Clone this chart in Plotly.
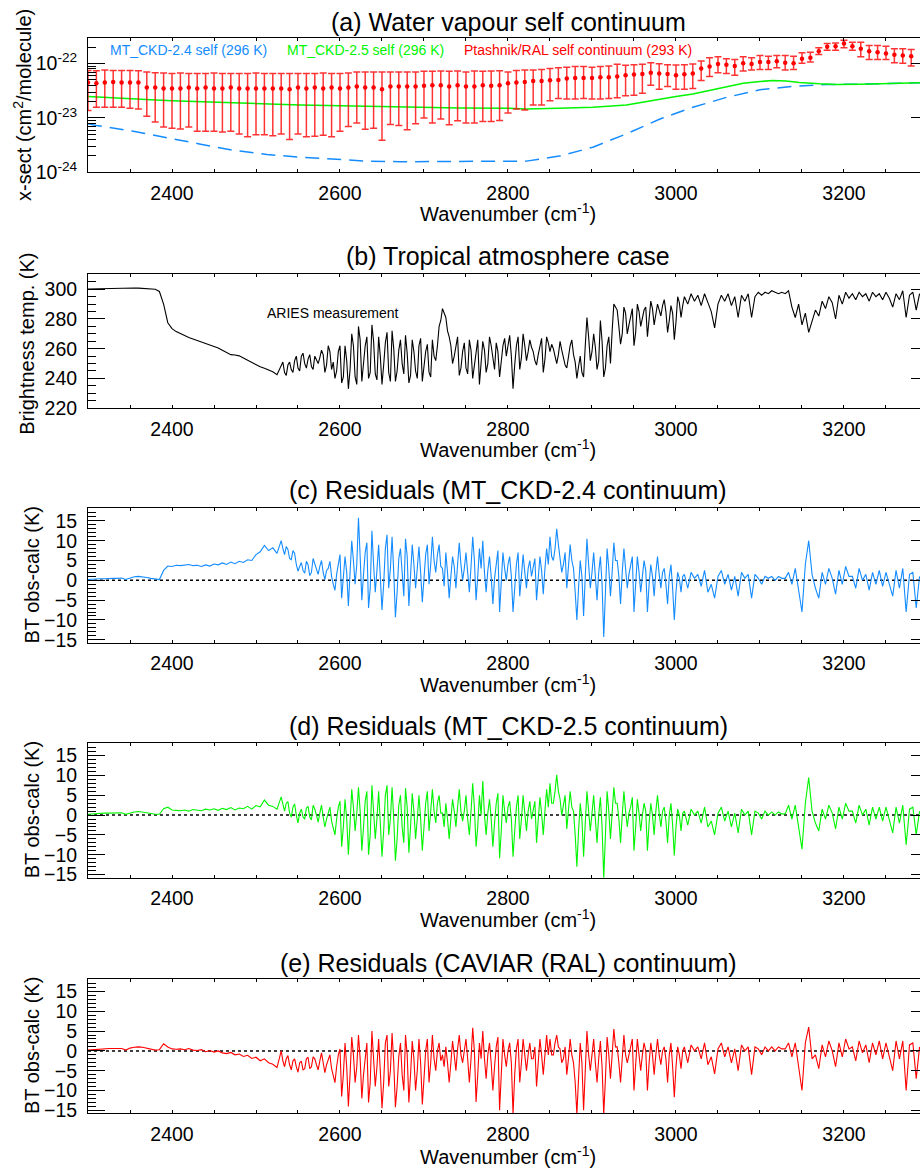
import plotly.graph_objects as go

W, H = 920, 1176
FONT = "Liberation Sans, Arial, Helvetica, sans-serif"
BLUE = "rgb(20,140,255)"
GREEN = "rgb(0,245,0)"
RED = "rgb(255,0,0)"
SCALE = 1e-23  # cross-section lists below are in units of 1e-23 cm2/molecule

# ---------------- (a) water vapour self continuum ----------------
ral_wn = list(range(2300, 3290, 10))
ral_centre = [4.5, 4.36, 4.5, 4.6, 4.5, 4.5, 4.5, 3.63, 3.63, 3.48,
              3.48, 3.48, 3.63, 3.48, 3.63, 3.48, 3.48, 3.63, 3.48, 3.48,
              3.48, 3.48, 3.48, 3.48, 3.39, 3.63, 3.48, 3.63, 3.48, 3.63,
              3.48, 3.63, 3.8, 3.63, 3.63, 3.39, 3.8, 3.8, 3.8, 3.8,
              3.9, 4.0, 4.0, 3.8, 4.0, 3.8, 3.8, 4.0, 3.9, 4.0,
              4.36, 4.5, 4.6, 4.8, 4.8, 4.94, 5.0, 5.3, 5.45, 5.45,
              5.45, 5.6, 5.6, 5.8, 6.1, 6.3, 6.45, 6.8, 6.6, 6.45,
              6.1, 6.35, 6.6, 8.1, 8.8, 9.8, 9.5, 9.0, 10.1, 9.8,
              10.7, 10.7, 11.0, 10.4, 10.1, 12.3, 12.8, 16.9, 20.3, 20.9,
              23.3, 20.9, 18.7, 16.9, 16.2, 15.3, 14.5, 14.1, 13.7]
ral_upper = [7.5, 7.4, 7.6, 7.5, 7.5, 7.5, 7.4, 7.0, 6.8, 6.7,
             6.6, 6.7, 6.6, 6.6, 6.6, 6.7, 6.6, 6.6, 6.6, 6.6,
             6.7, 6.6, 6.6, 6.6, 6.6, 6.6, 6.6, 6.6, 6.7, 6.6,
             6.6, 6.7, 7.0, 7.0, 7.0, 7.0, 7.0, 7.0, 7.0, 7.0,
             7.2, 7.2, 7.3, 7.2, 7.3, 7.0, 7.3, 7.2, 7.3, 7.4,
             7.0, 7.5, 7.6, 7.6, 7.8, 8.1, 8.4, 8.6, 8.8, 8.8,
             8.6, 8.8, 9.0, 9.7, 9.3, 9.5, 9.7, 10.4, 9.9, 9.5,
             9.4, 9.5, 9.8, 11.1, 12.8, 13.3, 12.3, 11.9, 13.3, 12.8,
             14.1, 13.7, 14.1, 14.1, 13.7, 15.8, 16.2, 19.5, 23.3, 24.0,
             26.8, 24.7, 24.7, 21.5, 21.5, 20.9, 18.7, 18.7, 18.2]
ral_lower = [1.37, 1.57, 1.57, 1.57, 1.57, 1.51, 1.47, 1.08, 0.84, 0.68,
             0.65, 0.63, 0.68, 0.57, 0.57, 0.57, 0.55, 0.57, 0.51, 0.45,
             0.49, 0.49, 0.47, 0.51, 0.40, 0.51, 0.45, 0.46, 0.48, 0.45,
             0.57, 0.70, 0.81, 0.62, 0.65, 0.39, 0.76, 0.73, 0.61, 0.78,
             1.00, 0.81, 0.96, 0.75, 0.89, 0.81, 0.81, 0.86, 0.86, 0.90,
             1.24, 1.47, 1.40, 1.73, 1.73, 2.08, 2.29, 2.23, 2.23, 2.29,
             2.23, 2.23, 2.29, 2.36, 2.56, 2.63, 2.86, 4.0, 3.39, 3.8,
             3.39, 3.39, 3.48, 4.87, 5.8, 6.8, 6.6, 6.1, 7.3, 7.6,
             7.8, 7.8, 8.4, 7.6, 7.8, 10.1, 10.7, 14.7, 17.6, 17.6,
             19.5, 17.6, 13.3, 11.9, 11.9, 11.9, 10.4, 10.1, 9.0]

ckd25_wn = [2300, 2325, 2354, 2375, 2400, 2450, 2473, 2500, 2553, 2600, 2632,
            2700, 2743, 2800, 2822, 2860, 2901, 2941, 2981, 3000, 3020, 3032,
            3060, 3080, 3100, 3115, 3131, 3147, 3171, 3191, 3220, 3258, 3300]
ckd25_val = [2.49, 2.36, 2.23, 2.16, 2.08, 1.94, 1.88, 1.84, 1.73, 1.68, 1.64,
             1.57, 1.53, 1.51, 1.47, 1.51, 1.57, 1.73, 2.23, 2.49, 2.75, 3.03,
             3.8, 4.36, 4.68, 4.87, 4.8, 4.5, 4.24, 4.12, 4.18, 4.30, 4.5]

ckd24_wn = [2300, 2310, 2354, 2394, 2434, 2473, 2513, 2553, 2593, 2632, 2672,
            2743, 2782, 2822, 2861, 2901, 2941, 2981, 3020, 3060, 3100, 3139,
            3179, 3219, 3300]
ckd24_val = [0.78, 0.73, 0.57, 0.43, 0.33, 0.255, 0.213, 0.19, 0.175, 0.161, 0.157,
             0.157, 0.157, 0.161, 0.199, 0.29, 0.51, 0.96, 1.57, 2.39, 3.30, 3.8,
             4.12, 4.18, 4.5]

# ---------------- spectra (b)-(e) on a common wavenumber grid ----------------
wn_smooth = list(range(2300, 2530, 5))    # 46 samples
wn_dense = list(range(2530, 3010, 2))     # 240 samples
wn_tail = list(range(3010, 3291, 4))      # 71 samples
wn = wn_smooth + wn_dense + wn_tail

bt_smooth = [300.2, 300.3, 300.3, 300.4, 300.4, 300.5, 300.5, 300.6, 300.6, 300.8,
             301.0, 300.9, 300.8, 300.7, 300.5, 300.3, 300.0, 298.5, 290.0, 277.5,
             273.5, 271.5, 270.0, 268.5, 267.5, 266.5, 265.5, 264.5, 263.8, 262.8,
             262.0, 260.5, 259.0, 257.5, 256.0, 255.8, 255.2, 253.8, 252.2, 250.5,
             249.0, 247.8, 246.8, 245.5, 244.5, 242.5]
bt_dense = [248, 251, 244, 242, 249, 251, 246, 244, 252, 255, 247, 245, 255, 257, 250, 247, 253, 256, 248, 246,
            255, 252, 250, 254, 259, 256, 244, 249, 262, 258, 246, 251, 240, 245, 258, 262, 237, 241, 262, 252,
            233, 246, 270, 262, 241, 236, 275, 266, 238, 250, 262, 268, 240, 244, 276, 265, 243, 239, 268, 255,
            236, 249, 264, 271, 244, 238, 272, 260, 238, 245, 259, 266, 250, 243, 269, 257, 237, 242, 266, 258,
            245, 240, 262, 267, 238, 248, 258, 263, 244, 241, 266, 255, 252, 262, 275, 279, 287, 284, 281, 272,
            268, 262, 250, 255, 262, 268, 242, 247, 258, 264, 247, 243, 266, 259, 240, 249, 261, 266, 236, 248,
            265, 259, 244, 250, 268, 262, 252, 246, 264, 258, 241, 251, 262, 267, 255, 262, 269, 255, 233, 249,
            262, 268, 246, 254, 270, 262, 252, 258, 266, 261, 258, 252, 249, 256, 262, 267, 244, 253, 268, 264,
            258, 263, 260, 254, 250, 256, 265, 259, 253, 249, 247, 255, 262, 266, 256, 251, 240, 248, 255, 244,
            241, 262, 281, 268, 252, 258, 270, 261, 246, 252, 279, 265, 241, 247, 262, 268, 250, 272, 290, 288,
            286, 275, 263, 270, 288, 284, 270, 276, 282, 287, 262, 271, 290, 285, 275, 281, 286, 288, 268, 280,
            292, 287, 276, 283, 290, 286, 282, 289, 293, 285, 271, 279, 289, 284, 266, 278, 295, 291, 281, 289]
bt_tail = [295, 290, 297, 292, 296, 289, 297, 291, 285, 274,
           290, 296, 292, 297, 289, 295, 281, 296, 292, 297,
           281, 295, 298, 296, 298, 297, 299, 298, 297, 298,
           297, 299, 288, 281, 290, 276, 284, 271, 279, 286,
           282, 292, 287, 295, 291, 280, 296, 290, 298, 294,
           297, 293, 298, 295, 297, 292, 298, 295, 297, 293,
           298, 294, 288, 297, 293, 299, 281, 296, 298, 286,
           297]

c24_smooth = [0.2, 0.3, 0.3, 0.4, 0.4, 0.5, 0.5, 0.5, 0.6, 0.2,
              0.6, 0.9, 1.0, 0.9, 0.7, 0.5, 0.3, 0.2, 2.5, 3.6,
              3.5, 3.8, 3.7, 3.9, 4.0, 3.7, 3.8, 3.5, 3.9, 3.6,
              4.1, 3.9, 4.4, 4.0, 4.6, 4.2, 4.8, 4.5, 5.2, 5.0,
              6.5, 7.2, 8.8, 7.5, 8.2, 6.8]
c24_dense = [10.0, 8.0, 6.5, 8.5, 7.8, 5.5, 5.2, 7.5, 6.8, 4.0, 2.3, 3.5, 4.5, 2.5, 1.8, 4.8, 3.9, 1.2, 2.0, 5.5,
             4.2, 2.8, 1.5, 3.5, 5.0, 2.0, 0.2, 2.5, 3.0, 4.8, 1.0, -1.0, -2.5, 1.5, 4.5, 6.5, -4.5, 0.5, 6.0, 2.0,
             -6.5, 2.0, 10.0, 5.0, -1.0, 4.0, 15.8, 6.0, -5.0, 1.5, 7.0, 9.5, -7.0, -2.0, 12.5, 4.0, -3.0, 2.5, 9.0, 1.0,
             -7.5, -1.0, 8.0, 11.5, -2.0, 3.0, 11.0, 2.0, -9.3, -3.0, 5.5, 8.0, 0.5, -4.0, 10.5, 6.0, -6.5, 1.0, 9.0, 4.0,
             -2.0, 3.0, 8.5, 2.0, -5.5, 0.5, 6.5, 9.0, -1.0, 4.0, 11.0, 5.0, 2.0, 6.5, 9.0, 3.5, 3.0, -1.5, 7.0, 2.0,
             -4.5, 1.0, 6.0, 3.5, -2.0, 4.0, 9.5, 4.0, 0.0, 3.0, 7.0, 2.0, -3.0, 3.5, 11.0, 5.0, -5.0, 1.0, 8.0, 3.0,
             10.0, 2.0, -3.0, 2.5, 6.0, 1.0, -6.0, 0.5, 5.0, 7.5, -8.0, -1.0, 7.0, 3.0, 0.0, 4.0, 6.0, 1.0, -8.0, -2.0,
             4.0, 7.0, -4.0, 1.0, 6.5, 2.0, -2.0, 3.0, 5.0, 1.0, 3.0, 5.5, -5.0, 1.0, 6.0, 2.5, -3.5, 3.0, 8.0, 4.0,
             11.0, 6.0, 5.0, 8.0, 13.0, 9.0, 6.0, 2.0, 4.0, 7.0, -2.0, 3.0, 9.0, 5.0, 3.0, -3.0, -10.0, -2.0, 5.0, 1.0,
             -9.0, 1.0, 10.5, 4.0, -2.0, 2.0, 7.0, 1.0, -5.0, 2.0, 6.0, -1.0, -14.3, -3.0, 8.0, 3.0, -4.0, 2.0, 9.5, 5.0,
             5.0, 1.0, -6.0, 2.0, 8.0, 3.0, -2.0, 1.5, 4.0, 6.0, -8.0, -2.0, 6.0, 2.0, -3.0, 1.0, 5.0, 2.5, -8.0, -1.0,
             4.0, 1.0, -4.0, 2.0, 6.0, 1.5, -2.0, 2.0, 3.0, -1.0, -6.0, 1.0, 4.0, -2.0, -10.0, -3.0, 2.0, 0.5, -3.0, 1.0]
c24_tail = [1.5, -2.0, 2.0, 0.5, 1.5, -1.5, 2.5, -3.0, -1.0, -4.5,
            1.0, 2.5, -1.0, 1.5, -2.5, 1.0, -4.0, 2.0, 0.5, 1.5,
            -4.5, 1.5, 0.5, -1.0, 1.0, 0.5, 1.0, 0.0, 1.0, 0.5,
            0.5, 2.0, -1.0, 3.0, -3.0, -8.0, 4.0, 10.0, 1.5, -2.0,
            -4.5, 2.0, -1.0, 3.0, 0.5, -3.5, 2.5, -1.0, 3.5, 1.0,
            1.0, -2.0, 3.0, 0.0, 1.5, -2.5, 2.0, -1.0, 2.5, -1.5,
            2.0, -1.0, -4.0, 2.5, -2.0, 3.0, -8.0, 1.5, 2.0, -7.0,
            1.0]

c25_smooth = [0.2, 0.3, 0.4, 0.4, 0.5, 0.5, 0.5, 0.6, 0.6, 0.2,
              0.6, 0.8, 0.9, 0.8, 0.6, 0.4, 0.2, 0.2, 1.6, 2.0,
              1.3, 1.2, 1.1, 1.3, 1.0, 1.4, 1.2, 1.1, 1.5, 1.3,
              1.6, 1.2, 1.7, 1.4, 1.9, 1.3, 1.8, 1.6, 2.2, 1.5,
              2.4, 2.1, 3.8, 2.5, 2.2, 1.5]
c25_dense = [4.6, 2.5, 1.0, 3.0, 3.4, 0.5, -0.5, 2.0, 2.8, 0.0, -2.0, 0.5, 1.5, -0.5, -1.0, 1.8, 2.2, -0.5, -1.2, 2.5,
             1.5, 0.0, -1.8, 0.5, 2.5, -0.5, -3.0, -1.0, 0.8, 2.0, -1.5, -3.5, -5.0, -1.0, 2.0, 3.5, -8.0, -3.0, 4.0, -1.0,
             -10.0, -2.0, 6.5, 2.0, -4.0, 0.5, 7.0, 1.0, -9.0, -3.0, 3.5, 6.0, -10.0, -5.0, 7.5, 1.0, -6.0, -1.0, 6.0, -2.0,
             -10.5, -4.0, 5.0, 7.5, -5.0, -1.0, 7.0, -1.0, -11.5, -6.0, 2.5, 5.0, -3.0, -7.0, 6.8, 2.0, -9.5, -3.0, 5.5, 1.0,
             -6.0, -1.0, 5.0, -1.0, -9.0, -3.0, 3.0, 6.0, -4.0, 1.0, 6.5, 1.0, -2.0, 3.0, 5.0, 0.5, 0.5, -3.0, 3.0, -1.0,
             -6.0, -1.0, 4.0, 1.0, -3.0, 2.0, 6.5, 1.0, -1.5, 1.0, 5.0, -1.0, -5.0, 1.0, 8.0, 2.0, -8.0, -3.0, 5.0, 0.0,
             8.6, 0.0, -5.0, 0.5, 4.0, -1.0, -8.0, -2.0, 3.0, 5.5, -10.9, -4.0, 5.0, 1.0, -2.0, 2.0, 3.5, -1.0, -10.5, -4.0,
             2.0, 5.0, -6.0, -1.0, 5.0, 0.5, -4.0, 1.0, 3.5, -1.0, 1.0, 3.5, -7.0, -1.0, 4.5, 0.5, -5.0, 1.0, 6.5, 2.0,
             8.0, 3.0, 3.0, 6.0, 10.2, 6.0, 4.0, 0.0, 2.5, 5.0, -3.5, 1.0, 6.0, 2.0, 1.0, -5.0, -13.0, -4.0, 3.0, -1.0,
             -10.5, -2.0, 6.0, 1.0, -4.0, 0.5, 5.0, -1.0, -7.0, 0.0, 4.5, -3.0, -16.0, -5.0, 6.0, 1.0, -6.0, 0.5, 7.0, 3.0,
             3.0, -1.0, -7.0, 0.0, 6.0, 1.0, -3.0, 0.5, 2.0, 4.5, -9.0, -3.0, 4.0, 0.5, -4.0, 0.0, 3.0, 1.0, -9.0, -2.0,
             3.0, 0.0, -5.0, 1.0, 5.0, 0.5, -3.0, 1.0, 2.0, -1.5, -7.0, 0.0, 3.0, -2.5, -10.2, -3.0, 1.5, 0.0, -4.0, 0.5]
c25_tail = [1.0, -2.5, 1.5, 0.0, 1.0, -2.0, 2.0, -3.0, -1.5, -5.0,
            0.5, 2.0, -1.5, 1.0, -3.0, 0.5, -4.5, 1.5, 0.0, 1.0,
            -5.0, 1.0, 0.5, -1.0, 1.0, 0.0, 0.8, 0.0, 0.8, 0.3,
            0.3, 2.5, -1.0, 2.5, -3.0, -8.6, 3.0, 9.5, 1.0, -2.0,
            -4.0, 1.5, -1.0, 2.5, 0.5, -3.5, 2.0, -1.0, 3.0, 1.0,
            1.0, -2.0, 2.5, 0.0, 1.5, -2.5, 2.0, -1.0, 2.0, -1.5,
            2.0, -1.0, -4.5, 2.0, -2.0, 2.5, -7.5, 1.5, 2.0, -5.0,
            1.0]

cav_smooth = [0.2, 0.3, 0.4, 0.5, 0.5, 0.6, 0.6, 0.6, 0.6, 0.2,
              0.7, 0.9, 1.0, 0.9, 0.7, 0.5, 0.2, 0.3, 1.8, 1.0,
              0.5, 0.4, 0.5, 0.3, 0.6, 0.2, 0.1, 0.3, -0.2, 0.1,
              -0.3, 0.0, -0.5, -0.7, -0.4, -1.0, -0.8, -1.4, -1.1, -1.9,
              -1.6, -2.5, -2.0, -3.0, -3.4, -4.2]
cav_dense = [0.0, -2.5, -4.0, -2.0, -1.2, -3.5, -4.8, -2.5, -2.0, -4.0, -5.4, -3.0, -2.6, -4.8, -4.5, -2.0, -1.6, -4.5, -4.0, -1.5,
             -2.0, -3.5, -4.8, -2.5, -0.5, -3.0, -5.5, -3.5, -2.0, -1.0, -4.5, -6.5, -8.0, -4.0, -1.0, 0.5, -11.5, -6.0, 2.0, -4.0,
             -14.0, -6.0, 3.5, -1.0, -8.0, -4.0, 4.0, -2.0, -12.0, -6.0, -1.0, 2.0, -13.0, -8.0, 5.0, -2.0, -9.0, -4.0, 3.0, -5.0,
             -14.5, -8.0, 2.0, 4.0, -9.0, -5.0, 4.5, -3.0, -14.2, -9.0, -1.5, 2.0, -6.0, -10.0, 4.0, -1.0, -13.0, -6.0, 2.5, -2.0,
             -10.0, -5.0, 3.0, -3.0, -13.5, -7.0, 0.0, 3.0, -8.0, -3.0, 4.0, -2.0, -5.0, 0.0, 2.0, -2.5, -1.0, -4.0, 1.0, -3.0,
             -8.0, -3.0, 2.5, -1.0, -5.0, 0.5, 4.0, -1.0, -3.0, 0.0, 3.0, -2.0, -8.0, -2.0, 5.8, 0.0, -12.9, -6.0, 2.0, -2.0,
             5.0, -2.0, -7.0, -1.0, 2.0, -3.0, -10.0, -4.0, 1.0, 3.5, -15.0, -6.0, 3.0, -1.0, -4.0, 0.0, 2.0, -3.0, -16.0, -6.0,
             0.5, 3.0, -8.0, -3.0, 3.0, -1.0, -5.0, -1.0, 2.0, -2.0, -2.0, 1.0, -9.0, -3.0, 3.0, -1.0, -6.0, -1.0, 4.0, -1.0,
             3.0, -1.0, -1.0, 2.0, 4.0, 1.0, 0.5, -3.0, -2.0, 1.0, -6.0, -2.0, 3.0, -1.0, -3.0, -8.0, -16.0, -7.0, 2.0, -3.0,
             -15.0, -5.0, 5.0, -1.0, -5.0, -1.0, 3.0, -3.0, -8.0, -2.0, 2.5, -4.0, -16.0, -7.0, 3.5, -1.0, -7.0, -1.0, 5.5, 1.0,
             1.0, -3.0, -8.0, -2.0, 4.0, -1.0, -3.0, -1.0, 1.5, 3.0, -10.0, -4.0, 3.0, -1.0, -5.0, -1.0, 2.0, 0.0, -10.0, -3.0,
             2.0, -1.0, -6.0, -1.0, 3.0, -1.0, -3.5, 0.0, 1.0, -2.0, -8.0, -1.0, 2.0, -4.0, -11.7, -4.0, 1.0, -1.0, -4.5, 0.0]
cav_tail = [1.0, -3.0, 1.5, 0.0, 1.0, -2.0, 2.0, -3.5, -1.5, -5.8,
            0.5, 2.0, -1.5, 1.0, -3.0, 0.5, -5.0, 1.5, 0.0, 1.0,
            -6.0, 1.0, 0.5, -1.0, 1.0, 0.0, 1.0, 0.0, 1.0, 0.5,
            0.5, 2.0, -1.5, 2.0, -4.0, -10.0, 2.0, 6.0, -2.0, -1.0,
            -4.5, 1.5, -1.5, 2.5, 0.0, -4.0, 2.0, -1.5, 3.0, 0.5,
            1.0, -2.5, 2.5, -0.5, 1.5, -3.0, 2.0, -1.0, 2.5, -2.0,
            2.0, -1.5, -5.0, 2.5, -2.0, 2.5, -10.0, 1.5, 2.0, -7.0,
            1.0]

bt_aries = bt_smooth + bt_dense + bt_tail
res_ckd24 = c24_smooth + c24_dense + c24_tail
res_ckd25 = c25_smooth + c25_dense + c25_tail
res_caviar = cav_smooth + cav_dense + cav_tail
for s in (bt_aries, res_ckd24, res_ckd25, res_caviar):
    assert len(s) == len(wn), (len(s), len(wn))

zero_wn = [2300, 3300]
zero_val = [0, 0]

titles = ["(a) Water vapour self continuum", "(b) Tropical atmosphere case",
          "(c) Residuals (MT_CKD-2.4 continuum)", "(d) Residuals (MT_CKD-2.5 continuum)",
          "(e) Residuals (CAVIAR (RAL) continuum)"]
ytitles = ["x-sect (cm<sup>2</sup>/molecule)", "Brightness temp. (K)",
           "BT obs-calc (K)", "BT obs-calc (K)", "BT obs-calc (K)"]
xtitle = "Wavenumber (cm<sup>-1</sup>)"
legend_a = ["MT_CKD-2.4 self (296 K)", "MT_CKD-2.5 self (296 K)",
            "Ptashnik/RAL self continuum (293 K)"]

# ---------------- layout geometry (pixels) ----------------
LEFT = 88
PANELS = [(38, 174), (277, 412), (513, 649), (750, 886), (988, 1124)]
X_RANGE = [2300, 3290.5]
TICK_FS = 19.5
TITLE_FS = 25
AX_FS = 20


def pxp(xpx):
    return xpx / W


def pyp(ypx):
    return 1 - ypx / H


fig = go.Figure()

# (a)
fig.add_trace(go.Scatter(x=ckd24_wn, y=[v * SCALE for v in ckd24_val], mode="lines",
                         line=dict(color=BLUE, width=1.5, dash="14px,8px"),
                         xaxis="x", yaxis="y", showlegend=False))
fig.add_trace(go.Scatter(x=ckd25_wn, y=[v * SCALE for v in ckd25_val], mode="lines",
                         line=dict(color=GREEN, width=1.5),
                         xaxis="x", yaxis="y", showlegend=False))
fig.add_trace(go.Scatter(
    x=ral_wn, y=[v * SCALE for v in ral_centre], mode="markers",
    marker=dict(color=RED, size=4.5),
    error_y=dict(type="data", symmetric=False,
                 array=[(u - c) * SCALE for u, c in zip(ral_upper, ral_centre)],
                 arrayminus=[(c - l) * SCALE for c, l in zip(ral_centre, ral_lower)],
                 color="rgba(255,0,0,0.8)", thickness=1.5, width=3.5),
    xaxis="x", yaxis="y", showlegend=False))

# (b)
fig.add_trace(go.Scatter(x=wn, y=bt_aries, mode="lines", line=dict(color="black", width=1.1),
                         xaxis="x2", yaxis="y2", showlegend=False))

# (c)-(e)
for i, (res, col) in enumerate([(res_ckd24, BLUE), (res_ckd25, GREEN), (res_caviar, RED)]):
    n = i + 3
    fig.add_trace(go.Scatter(x=zero_wn, y=zero_val, mode="lines",
                             line=dict(color="black", width=1.5, dash="dot"),
                             xaxis=f"x{n}", yaxis=f"y{n}", showlegend=False))
    fig.add_trace(go.Scatter(x=wn, y=res, mode="lines", line=dict(color=col, width=1.1),
                             xaxis=f"x{n}", yaxis=f"y{n}", showlegend=False))

# dummy traces for right-hand tick axes
for n in range(1, 6):
    fig.add_trace(go.Scatter(x=[None], y=[None], mode="lines", showlegend=False,
                             hoverinfo="skip", xaxis="x" if n == 1 else f"x{n}",
                             yaxis=f"y{n + 5}"))

layout = dict(width=W, height=H, margin=dict(l=0, r=0, t=0, b=0),
              paper_bgcolor="white", plot_bgcolor="white",
              font=dict(family=FONT, color="black", size=TICK_FS), showlegend=False)

y_specs = [
    dict(type="log", range=[-24, -21.523], tickvals=[1e-24, 1e-23, 1e-22],
         ticktext=["10<sup>-24</sup>", "10<sup>-23</sup>", "10<sup>-22</sup>"],
         minor=dict(ticks="inside", ticklen=8, tickcolor="black", dtick="D1")),
    dict(range=[220, 310], tickvals=[220, 240, 260, 280, 300],
         minor=dict(ticks="inside", ticklen=8, tickcolor="black", dtick=5, tick0=0)),
] + [dict(range=[-15.8, 18.2], tickvals=[-15, -10, -5, 0, 5, 10, 15],
          minor=dict(ticks="inside", ticklen=8, tickcolor="black", dtick=1, tick0=0))] * 3

for i in range(5):
    n = i + 1
    xs = "" if n == 1 else str(n)
    top, bot = PANELS[i]
    dom = [pyp(bot), pyp(top)]
    layout[f"xaxis{xs}"] = dict(
        domain=[pxp(LEFT), 1.0], range=X_RANGE, anchor=f"y{xs}",
        showline=True, linecolor="black", linewidth=1, mirror="ticks",
        ticks="inside", ticklen=3, tickcolor="black", tick0=2400, dtick=200,
        minor=dict(ticks="inside", ticklen=3, tickcolor="black", dtick=50, tick0=2300),
        showgrid=False, zeroline=False, ticklabelstandoff=3,
        tickfont=dict(size=TICK_FS, family=FONT, color="black"))
    ys = dict(domain=dom, anchor=f"x{xs}", showline=True, linecolor="black", linewidth=1,
              mirror=False, ticks="inside", ticklen=17, tickcolor="black",
              showgrid=False, zeroline=False, ticklabelstandoff=6,
              tickfont=dict(size=TICK_FS, family=FONT, color="black"))
    ys.update(y_specs[i])
    layout[f"yaxis{xs}"] = ys
    # right-hand (cropped) tick marks
    r = dict(overlaying=f"y{xs}", side="right", anchor=f"x{xs}", showline=False,
             ticks="inside", ticklen=9, tickcolor="black", showticklabels=False,
             showgrid=False, zeroline=False, range=y_specs[i]["range"],
             tickvals=y_specs[i]["tickvals"])
    if i == 0:
        r["type"] = "log"
    layout[f"yaxis{n + 5}"] = r

ann = []
title_y = [22, 258, 495, 733, 972]
xtitle_y = [215, 453, 690, 927, 1166]
ytitle_x = [22, 27, 32, 32, 32]
ytitle_y = [106, 347, 581, 818, 1056]
for i in range(5):
    ann.append(dict(text=titles[i], x=pxp(508), y=pyp(title_y[i]), xref="paper", yref="paper",
                    xanchor="center", yanchor="middle", showarrow=False,
                    font=dict(size=TITLE_FS, family=FONT, color="black")))
    ann.append(dict(text=xtitle, x=pxp(508), y=pyp(xtitle_y[i]), xref="paper", yref="paper",
                    xanchor="center", yanchor="middle", showarrow=False,
                    font=dict(size=AX_FS, family=FONT, color="black")))
    ann.append(dict(text=ytitles[i], x=pxp(ytitle_x[i]), y=pyp(ytitle_y[i]), xref="paper",
                    yref="paper", xanchor="center", yanchor="middle", textangle=-90,
                    showarrow=False, font=dict(size=AX_FS, family=FONT, color="black")))

for txt, xpx, col in zip(legend_a, [108, 285, 462], [BLUE, GREEN, RED]):
    ann.append(dict(text=txt, x=pxp(xpx), y=pyp(50), xref="paper", yref="paper",
                    xanchor="left", yanchor="middle", showarrow=False,
                    font=dict(size=14, family=FONT, color=col)))
ann.append(dict(text="ARIES measurement", x=pxp(265), y=pyp(316), xref="paper", yref="paper",
                xanchor="left", yanchor="middle", showarrow=False,
                font=dict(size=14, family=FONT, color="black")))
layout["annotations"] = ann

fig.update_layout(**layout)
# remove the browser's default 8 px body margin so the 920x1176 figure fills the window
fig.write_html("out.html", config={"displayModeBar": False},
               post_script="document.body.style.margin='0px';")
